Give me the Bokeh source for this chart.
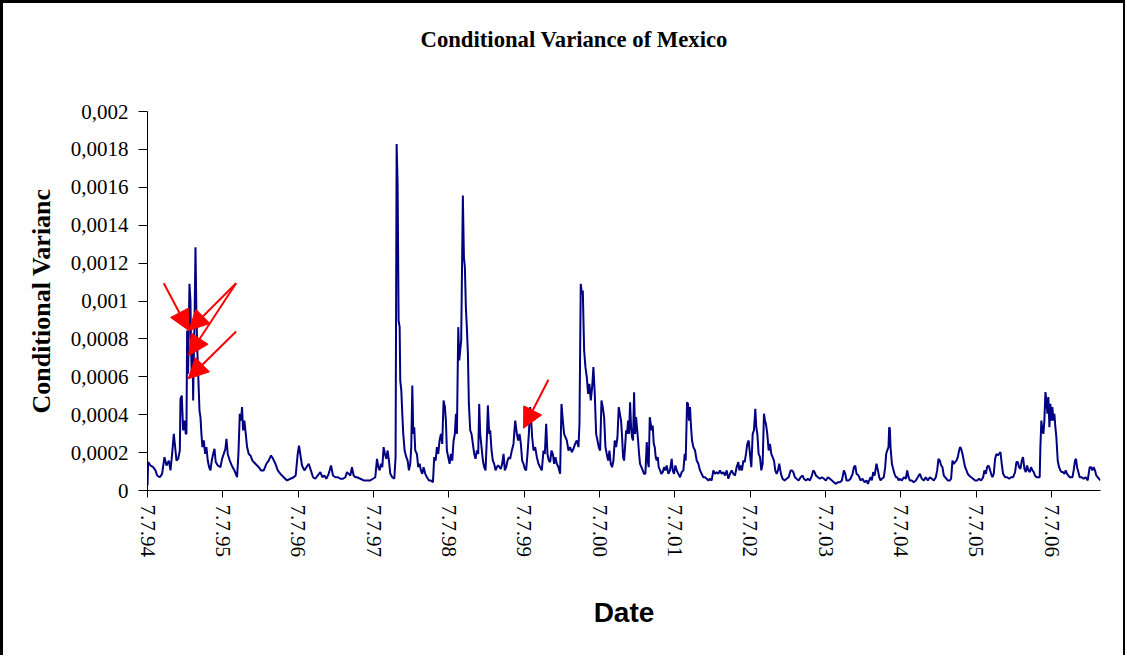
from bokeh.plotting import figure
from bokeh.models import Range1d, FixedTicker, Arrow, NormalHead, ColumnDataSource, Title
from bokeh.embed import file_html
from bokeh.resources import INLINE

# ---- data: decimal year, conditional variance in units of 1e-4 ----
t_1994_96 = [1994.510, 1994.519, 1994.550, 1994.585, 1994.616, 1994.638, 1994.673, 1994.704, 1994.735, 1994.762,
             1994.793, 1994.815, 1994.837, 1994.859, 1994.877, 1994.895, 1994.917, 1994.939, 1994.948, 1994.965,
             1994.983, 1995.001, 1995.018, 1995.027, 1995.036, 1995.049, 1995.067, 1995.080, 1995.089, 1995.098,
             1995.107, 1995.116, 1995.124, 1995.133, 1995.147, 1995.160, 1995.173, 1995.186, 1995.200, 1995.213,
             1995.226, 1995.239, 1995.257, 1995.275, 1995.292, 1995.310, 1995.328, 1995.345, 1995.363, 1995.381,
             1995.399, 1995.416, 1995.443, 1995.478, 1995.500, 1995.522, 1995.544, 1995.558, 1995.575, 1995.602,
             1995.628, 1995.664, 1995.699, 1995.717, 1995.735, 1995.752, 1995.765, 1995.779, 1995.796, 1995.814,
             1995.832, 1995.854, 1995.876, 1995.903, 1995.942, 1995.987, 1996.017, 1996.053, 1996.088, 1996.119,
             1996.150, 1996.177, 1996.208, 1996.239, 1996.274, 1996.318, 1996.362, 1996.407, 1996.451, 1996.477,
             1996.504, 1996.521]
v_1994_96 = [0.26, 1.50, 1.32, 1.23, 1.06, 0.79, 0.70, 0.88, 1.76, 1.32,
             1.58, 1.06, 1.93, 2.99, 2.29, 1.58, 1.67, 2.11, 4.84, 5.01,
             3.17, 3.69, 2.99, 2.99, 8.44, 6.16, 10.91, 10.03, 7.39, 5.98,
             8.27, 4.75, 6.86, 8.62, 12.84, 9.15, 7.21, 5.80, 4.22, 3.87,
             2.99, 2.29, 2.64, 1.93, 2.29, 1.58, 1.23, 1.06, 1.58, 1.93,
             2.20, 1.50, 1.32, 1.23, 1.67, 1.93, 2.20, 2.73, 1.93, 1.58,
             1.32, 1.06, 0.70, 1.93, 4.05, 3.69, 4.40, 3.17, 3.69, 2.99,
             2.29, 1.93, 1.85, 1.58, 1.41, 1.23, 1.06, 1.06, 1.41, 1.58,
             1.85, 1.67, 1.41, 1.06, 0.88, 0.70, 0.53, 0.62, 0.70, 0.79,
             1.93, 2.37]

t_1996_98 = [1996.561, 1996.592, 1996.619, 1996.650, 1996.672, 1996.707, 1996.738, 1996.769, 1996.804, 1996.831,
             1996.857, 1996.884, 1996.915, 1996.946, 1996.972, 1997.003, 1997.034, 1997.070, 1997.105, 1997.136,
             1997.158, 1997.180, 1997.202, 1997.224, 1997.246, 1997.269, 1997.291, 1997.335, 1997.379, 1997.423,
             1997.467, 1997.503, 1997.534, 1997.556, 1997.574, 1997.591, 1997.609, 1997.627, 1997.644, 1997.662,
             1997.680, 1997.697, 1997.715, 1997.733, 1997.759, 1997.786, 1997.803, 1997.817, 1997.830, 1997.843,
             1997.857, 1997.865, 1997.879, 1997.892, 1997.905, 1997.923, 1997.945, 1997.963, 1997.980, 1997.998,
             1998.011, 1998.025, 1998.038, 1998.051, 1998.064, 1998.086, 1998.104, 1998.122, 1998.139, 1998.157,
             1998.175, 1998.197, 1998.219, 1998.246, 1998.272, 1998.299, 1998.316, 1998.334, 1998.352, 1998.369,
             1998.387, 1998.405, 1998.422, 1998.440, 1998.458, 1998.471, 1998.484, 1998.502, 1998.520, 1998.537,
             1998.555, 1998.573, 1998.590, 1998.604, 1998.617, 1998.635, 1998.648]
v_1996_98 = [1.32, 1.06, 1.23, 1.41, 1.14, 0.70, 0.62, 0.79, 0.97, 0.70,
             0.79, 0.62, 0.88, 1.32, 0.79, 0.70, 0.70, 0.62, 0.62, 0.70,
             0.97, 0.88, 0.79, 1.23, 0.79, 0.70, 0.70, 0.62, 0.53, 0.53,
             0.53, 0.62, 0.70, 1.67, 1.23, 1.06, 1.41, 1.23, 2.29, 1.93,
             1.67, 2.11, 1.58, 0.88, 0.70, 0.62, 1.76, 18.29, 16.18, 8.97,
             8.62, 5.80, 5.28, 4.05, 2.99, 2.11, 1.76, 1.58, 1.06, 1.41,
             2.29, 5.54, 2.99, 3.34, 2.11, 1.93, 1.23, 1.41, 1.06, 0.88,
             1.23, 0.88, 0.70, 0.53, 0.53, 0.44, 1.76, 1.58, 2.29, 1.93,
             2.64, 2.99, 2.46, 4.75, 4.40, 3.69, 2.11, 1.76, 1.41, 1.93,
             1.58, 2.64, 2.99, 4.05, 2.99, 8.62, 6.86]

t_1998_00 = [1998.674, 1998.696, 1998.710, 1998.723, 1998.736, 1998.749, 1998.763, 1998.776, 1998.794, 1998.811,
             1998.829, 1998.847, 1998.864, 1998.882, 1998.900, 1998.913, 1998.926, 1998.944, 1998.962, 1998.979,
             1998.997, 1999.015, 1999.028, 1999.046, 1999.059, 1999.077, 1999.094, 1999.112, 1999.130, 1999.147,
             1999.165, 1999.183, 1999.200, 1999.218, 1999.236, 1999.253, 1999.271, 1999.289, 1999.307, 1999.324,
             1999.346, 1999.368, 1999.391, 1999.413, 1999.430, 1999.448, 1999.466, 1999.483, 1999.501, 1999.519,
             1999.536, 1999.554, 1999.572, 1999.589, 1999.603, 1999.616, 1999.634, 1999.656, 1999.678, 1999.700,
             1999.722, 1999.744, 1999.766, 1999.784, 1999.802, 1999.819, 1999.837, 1999.855, 1999.872, 1999.890,
             1999.908, 1999.925, 1999.943, 1999.965, 1999.987, 2000.005, 2000.023, 2000.040, 2000.058, 2000.076,
             2000.098, 2000.120, 2000.142, 2000.164, 2000.186, 2000.208, 2000.231, 2000.244, 2000.261, 2000.275,
             2000.288, 2000.306, 2000.323, 2000.341, 2000.359, 2000.376, 2000.394, 2000.412, 2000.429, 2000.447,
             2000.465, 2000.483, 2000.500, 2000.518, 2000.536, 2000.553, 2000.571, 2000.589, 2000.606, 2000.624,
             2000.642, 2000.659, 2000.677, 2000.695, 2000.712, 2000.730, 2000.748, 2000.765]
v_1998_00 = [7.92, 15.57, 12.31, 11.79, 9.67, 8.62, 7.21, 4.57, 3.17, 2.99,
             2.46, 1.93, 1.67, 2.11, 1.93, 4.57, 2.99, 2.29, 1.58, 1.23,
             1.06, 2.81, 4.49, 2.99, 3.17, 2.11, 1.58, 1.41, 1.06, 1.23,
             1.32, 1.23, 1.14, 1.41, 1.93, 1.06, 1.23, 1.58, 1.76, 1.67,
             2.11, 2.46, 3.69, 2.99, 2.64, 2.99, 2.46, 1.58, 1.41, 1.14,
             1.06, 1.93, 2.99, 4.40, 3.69, 2.81, 2.11, 2.29, 1.76, 1.41,
             1.23, 1.06, 2.11, 1.93, 3.52, 1.93, 1.58, 1.50, 2.11, 1.93,
             1.41, 1.76, 1.41, 1.23, 0.88, 4.57, 3.69, 2.99, 2.81, 2.64,
             2.11, 2.29, 2.02, 2.20, 2.46, 2.64, 2.29, 3.52, 10.91, 10.38,
             10.55, 7.39, 6.51, 5.98, 5.10, 5.63, 4.75, 5.45, 6.51, 5.10,
             2.99, 2.64, 2.29, 2.11, 4.75, 4.40, 3.87, 2.29, 1.93, 1.58,
             2.11, 1.41, 1.23, 1.58, 2.64, 2.29, 2.81, 4.40]

t_2000_02 = [2000.796, 2000.810, 2000.823, 2000.836, 2000.849, 2000.863, 2000.876, 2000.889, 2000.902, 2000.916,
             2000.929, 2000.942, 2000.955, 2000.969, 2000.982, 2000.995, 2001.009, 2001.022, 2001.035, 2001.048,
             2001.066, 2001.084, 2001.101, 2001.119, 2001.137, 2001.150, 2001.163, 2001.177, 2001.190, 2001.203,
             2001.216, 2001.230, 2001.243, 2001.256, 2001.269, 2001.283, 2001.296, 2001.314, 2001.331, 2001.349,
             2001.367, 2001.384, 2001.402, 2001.424, 2001.446, 2001.468, 2001.482, 2001.499, 2001.517, 2001.535,
             2001.557, 2001.579, 2001.601, 2001.623, 2001.641, 2001.654, 2001.672, 2001.685, 2001.698, 2001.711,
             2001.725, 2001.738, 2001.756, 2001.778, 2001.800, 2001.822, 2001.844, 2001.866, 2001.888, 2001.910,
             2001.933, 2001.955, 2001.977, 2001.999, 2002.021, 2002.043, 2002.065, 2002.087, 2002.109, 2002.131,
             2002.154, 2002.176, 2002.198, 2002.220, 2002.242, 2002.264, 2002.286, 2002.308, 2002.330, 2002.353,
             2002.366, 2002.383, 2002.401, 2002.419, 2002.437, 2002.454, 2002.472, 2002.490, 2002.507, 2002.525,
             2002.543, 2002.560, 2002.578, 2002.591, 2002.605, 2002.622, 2002.640, 2002.658, 2002.675, 2002.693,
             2002.706, 2002.719, 2002.737, 2002.755, 2002.773, 2002.790, 2002.808, 2002.826, 2002.843, 2002.861,
             2002.879, 2002.896]
v_2000_02 = [3.69, 2.81, 1.76, 1.58, 2.29, 3.17, 2.99, 3.69, 2.99, 4.66,
             3.34, 2.81, 2.64, 5.19, 2.99, 3.87, 3.25, 2.64, 1.93, 1.41,
             1.23, 1.06, 0.88, 0.88, 2.55, 1.58, 1.23, 3.87, 3.52, 3.17,
             3.43, 2.46, 2.29, 1.76, 1.58, 1.76, 1.23, 1.06, 0.88, 0.97,
             1.23, 1.06, 1.32, 0.88, 1.06, 1.67, 1.06, 0.88, 1.32, 1.06,
             0.88, 0.70, 0.97, 1.06, 1.93, 1.58, 4.66, 4.57, 3.69, 4.40,
             3.34, 2.64, 2.29, 2.11, 1.58, 1.41, 1.06, 0.88, 0.70, 0.70,
             0.62, 0.53, 0.62, 0.53, 1.06, 0.88, 0.97, 0.88, 1.06, 0.88,
             0.97, 0.79, 1.06, 0.62, 0.88, 1.06, 0.88, 0.79, 1.23, 1.50,
             1.06, 1.32, 1.06, 1.58, 1.50, 1.93, 2.46, 2.64, 1.93, 1.23,
             2.99, 3.17, 4.31, 3.34, 2.99, 1.93, 1.76, 1.06, 1.41, 4.05,
             3.69, 3.52, 2.99, 2.11, 2.46, 1.93, 1.76, 1.58, 1.06, 0.88,
             1.06, 1.41]

t_2002_05 = [2002.918, 2002.940, 2002.967, 2002.993, 2003.020, 2003.047, 2003.064, 2003.082, 2003.104, 2003.126,
             2003.153, 2003.179, 2003.206, 2003.223, 2003.250, 2003.276, 2003.303, 2003.329, 2003.347, 2003.365,
             2003.383, 2003.409, 2003.436, 2003.462, 2003.489, 2003.515, 2003.542, 2003.568, 2003.595, 2003.621,
             2003.648, 2003.674, 2003.701, 2003.727, 2003.754, 2003.772, 2003.789, 2003.816, 2003.842, 2003.869,
             2003.887, 2003.904, 2003.922, 2003.948, 2003.975, 2004.001, 2004.028, 2004.055, 2004.072, 2004.090,
             2004.108, 2004.125, 2004.143, 2004.161, 2004.187, 2004.205, 2004.223, 2004.240, 2004.258, 2004.284,
             2004.302, 2004.315, 2004.329, 2004.346, 2004.355, 2004.364, 2004.373, 2004.391, 2004.408, 2004.426,
             2004.444, 2004.461, 2004.479, 2004.497, 2004.523, 2004.550, 2004.576, 2004.594, 2004.612, 2004.629,
             2004.656, 2004.682, 2004.709, 2004.735, 2004.762, 2004.788, 2004.815, 2004.841, 2004.868, 2004.895,
             2004.921, 2004.948, 2004.974, 2004.992, 2005.009]
v_2002_05 = [0.88, 0.62, 0.53, 0.62, 0.70, 1.06, 1.06, 0.97, 0.70, 0.62,
             0.53, 0.70, 0.79, 0.62, 0.53, 0.62, 0.53, 0.79, 1.06, 0.97,
             0.79, 0.70, 0.62, 0.70, 0.62, 0.53, 0.70, 0.62, 0.53, 0.44,
             0.35, 0.44, 0.44, 0.53, 1.06, 0.88, 0.53, 0.53, 0.62, 0.88,
             1.23, 1.32, 0.88, 0.79, 0.53, 0.62, 0.44, 0.53, 0.35, 0.53,
             0.70, 0.53, 0.97, 0.79, 1.41, 1.06, 0.70, 0.53, 0.62, 0.70,
             1.23, 1.93, 2.11, 2.29, 3.34, 3.25, 2.29, 1.41, 1.14, 0.88,
             0.70, 0.70, 0.53, 0.62, 0.53, 0.70, 0.62, 1.06, 0.70, 0.53,
             0.53, 0.44, 0.53, 0.70, 0.88, 0.62, 0.53, 0.70, 0.53, 0.70,
             0.62, 0.53, 0.70, 1.06, 1.67]

t_2005_07 = [2005.027, 2005.045, 2005.062, 2005.080, 2005.098, 2005.115, 2005.133, 2005.160, 2005.177, 2005.195,
             2005.213, 2005.230, 2005.248, 2005.266, 2005.283, 2005.297, 2005.310, 2005.328, 2005.345, 2005.363,
             2005.381, 2005.398, 2005.416, 2005.443, 2005.469, 2005.496, 2005.522, 2005.549, 2005.575, 2005.602,
             2005.619, 2005.637, 2005.655, 2005.673, 2005.690, 2005.708, 2005.726, 2005.743, 2005.761, 2005.779,
             2005.796, 2005.814, 2005.832, 2005.849, 2005.867, 2005.894, 2005.920, 2005.947, 2005.973, 2006.000,
             2006.026, 2006.044, 2006.062, 2006.079, 2006.097, 2006.115, 2006.132, 2006.150, 2006.168, 2006.185,
             2006.203, 2006.221, 2006.238, 2006.256, 2006.274, 2006.291, 2006.309, 2006.336, 2006.353, 2006.362,
             2006.375, 2006.389, 2006.402, 2006.415, 2006.429, 2006.442, 2006.455, 2006.468, 2006.482, 2006.495,
             2006.508, 2006.521, 2006.535, 2006.548, 2006.561, 2006.574, 2006.592, 2006.610, 2006.627, 2006.645,
             2006.663, 2006.681, 2006.698, 2006.716, 2006.734, 2006.751, 2006.769, 2006.787, 2006.804, 2006.822,
             2006.835, 2006.849, 2006.866, 2006.884, 2006.910, 2006.937, 2006.963, 2006.990, 2007.017, 2007.034,
             2007.052, 2007.069, 2007.087, 2007.105, 2007.123, 2007.140, 2007.158]
v_2005_07 = [1.58, 1.32, 1.23, 0.79, 0.70, 0.62, 0.53, 0.53, 0.62, 1.58,
             1.41, 1.50, 1.58, 1.76, 2.11, 2.29, 2.20, 1.93, 1.58, 1.23,
             1.06, 0.88, 0.79, 0.70, 0.62, 0.53, 0.53, 0.62, 0.53, 0.70,
             1.06, 0.88, 1.23, 1.32, 1.14, 0.88, 0.70, 0.88, 1.67, 1.93,
             1.85, 1.93, 2.02, 1.41, 0.88, 0.70, 0.70, 0.62, 0.70, 0.70,
             0.97, 1.50, 1.50, 1.23, 1.14, 1.58, 1.76, 1.14, 0.97, 1.32,
             1.06, 0.97, 1.23, 1.06, 0.97, 0.79, 0.70, 0.70, 0.70, 2.29,
             3.69, 3.17, 2.99, 3.69, 5.19, 4.75, 4.05, 4.93, 3.34, 4.57,
             3.69, 4.40, 3.69, 4.05, 3.34, 2.81, 1.58, 1.23, 1.06, 0.97,
             0.97, 0.88, 1.06, 0.88, 0.79, 0.70, 0.70, 0.70, 1.06, 1.58,
             1.67, 1.23, 0.97, 0.70, 0.70, 0.62, 0.70, 0.53, 1.23, 1.23,
             1.06, 1.23, 1.06, 0.79, 0.70, 0.62, 0.53]

# ticks
x_tick_years = [1994.51 + k for k in range(13)]
x_tick_labels = ["7.7.94", "7.7.95", "7.7.96", "7.7.97", "7.7.98", "7.7.99", "7.7.00",
                 "7.7.01", "7.7.02", "7.7.03", "7.7.04", "7.7.05", "7.7.06"]
y_tick_values = [0, 0.0002, 0.0004, 0.0006, 0.0008, 0.001, 0.0012, 0.0014, 0.0016, 0.0018, 0.002]
y_tick_labels = ["0", "0,0002", "0,0004", "0,0006", "0,0008", "0,001", "0,0012", "0,0014",
                 "0,0016", "0,0018", "0,002"]

# red arrows: (x_start, y_start, x_end, y_end)
arrows = [
    (1994.726, 0.0010939, 1995.058, 0.0008443),
    (1995.686, 0.0010939, 1995.058, 0.0008443),
    (1995.686, 0.0010939, 1995.058, 0.0007124),
    (1995.686, 0.0008390, 1995.050, 0.0005894),
    (1999.832, 0.0005842, 1999.501, 0.0003288),
]

years = t_1994_96 + t_1996_98 + t_1998_00 + t_2000_02 + t_2002_05 + t_2005_07
var_e4 = v_1994_96 + v_1996_98 + v_1998_00 + v_2000_02 + v_2002_05 + v_2005_07
variance = [v * 1e-4 for v in var_e4]

src = ColumnDataSource(dict(year=years, variance=variance))

serif = "Liberation Serif"

p = figure(width=1125, height=655, output_backend="svg", toolbar_location=None, title=None,
           x_range=Range1d(1994.51, 2007.16), y_range=Range1d(0, 0.002),
           min_border_left=147, min_border_right=25, min_border_top=111, min_border_bottom=165)
p.outline_line_color = None
p.border_fill_color = None
p.xgrid.visible = False
p.ygrid.visible = False
p.styles = {"box-shadow": "inset 3px 3px 0 0 #000, inset -2px 0 0 0 #000"}

# blank (white) spacer nearest the frame, then the real title further out
p.add_layout(Title(text=".", text_color="#ffffff", standoff=44, text_font=serif,
                   text_font_size="22px"), "above")
p.add_layout(Title(text="Conditional Variance of Mexico", align="left", offset=273,
                   standoff=0, text_font=serif,
                   text_font_style="bold", text_font_size="22.7px", text_color="#000000"), "above")

p.line("year", "variance", source=src, line_color="#000080", line_width=2)

for (xs, ys, xe, ye) in arrows:
    p.add_layout(Arrow(x_start=xs, y_start=ys, x_end=xe, y_end=ye,
                       line_color="#ff0000", line_width=2,
                       end=NormalHead(size=20, fill_color="#ff0000", line_color="#ff0000")))

xa = p.xaxis[0]
xa.ticker = FixedTicker(ticks=x_tick_years)
xa.major_label_overrides = {t: l for t, l in zip(x_tick_years, x_tick_labels)}
xa.major_label_orientation = "vertical"
xa.major_label_text_font = serif
xa.major_label_text_font_size = "21px"
xa.major_label_text_color = "#000000"
xa.major_label_standoff = 7
xa.major_tick_out = 7
xa.major_tick_in = 0
xa.minor_tick_out = 0
xa.minor_tick_in = 0
xa.axis_line_color = "#000000"
xa.major_tick_line_color = "#000000"
xa.axis_label = "Date"
xa.axis_label_text_font = "Liberation Sans"
xa.axis_label_text_font_style = "bold"
xa.axis_label_text_font_size = "28px"
xa.axis_label_text_color = "#000000"
xa.axis_label_standoff = 37

ya = p.yaxis[0]
ya.ticker = FixedTicker(ticks=y_tick_values)
ya.major_label_overrides = {t: l for t, l in zip(y_tick_values, y_tick_labels)}
ya.major_label_text_font = serif
ya.major_label_text_font_size = "21px"
ya.major_label_text_color = "#000000"
ya.major_label_standoff = 10
ya.major_tick_out = 9
ya.major_tick_in = 0
ya.minor_tick_out = 0
ya.minor_tick_in = 0
ya.axis_line_color = "#000000"
ya.major_tick_line_color = "#000000"
ya.axis_label = "Conditional Varianc"
ya.axis_label_text_font = serif
ya.axis_label_text_font_style = "bold"
ya.axis_label_text_font_size = "26px"
ya.axis_label_text_color = "#000000"
ya.axis_label_standoff = 12

open("out.html", "w").write(file_html(p, INLINE))
